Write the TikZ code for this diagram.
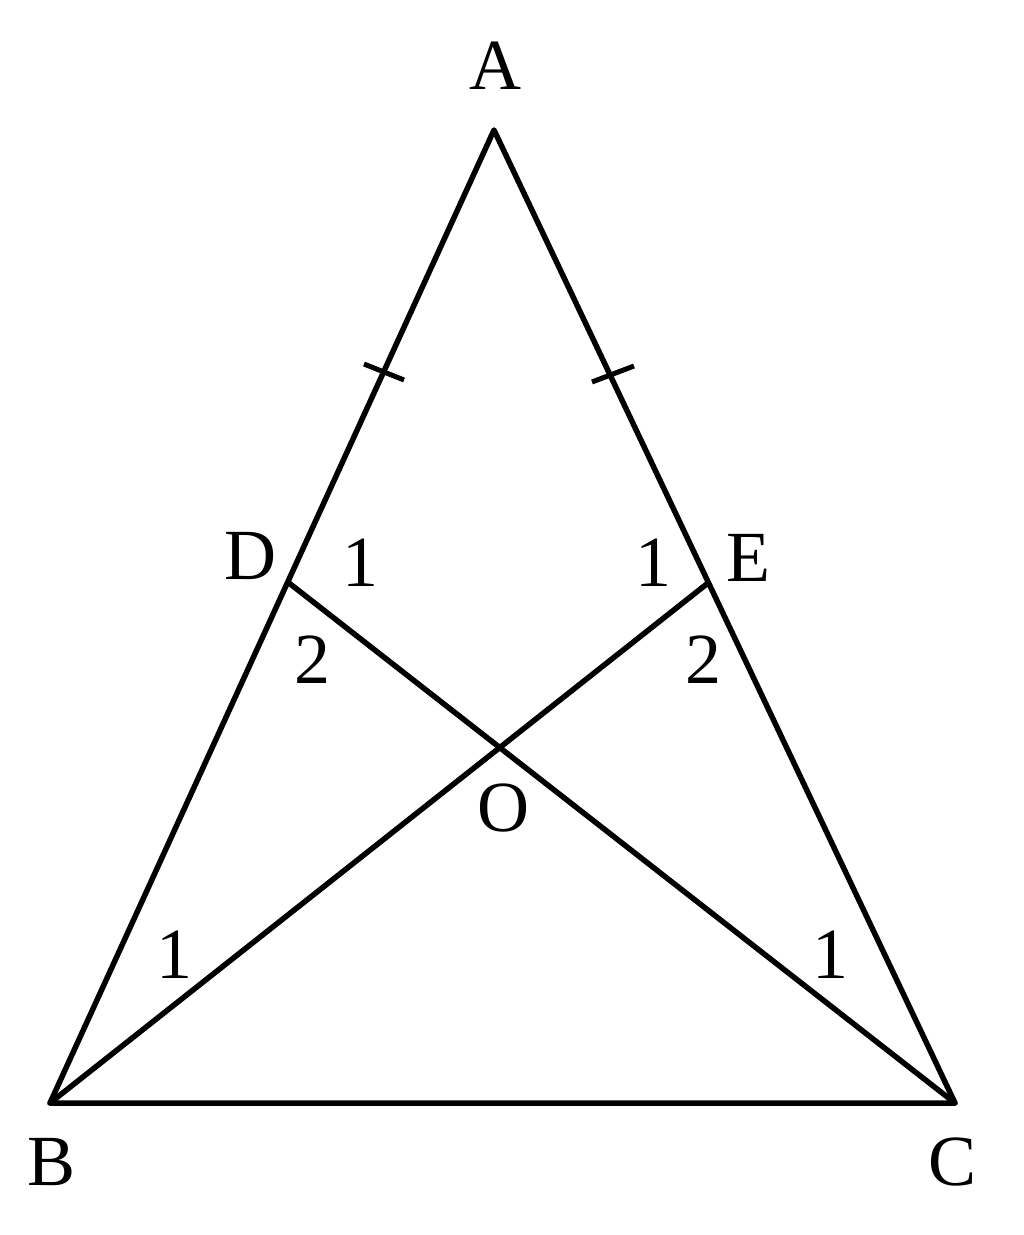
\documentclass[tikz,border=0pt]{standalone}
\usepackage{fontspec}
\setmainfont{Liberation Serif}
\begin{document}
\begin{tikzpicture}[x=1pt,y=-1pt,
  seg/.style={line width=5.5pt,line cap=round,line join=round},
  tick/.style={line width=5pt},
  lbl/.style={font=\fontsize{72}{80}\selectfont,inner sep=0pt}]
\useasboundingbox (0,0) rectangle (1024,1235);
\coordinate (A) at (494,130);
\coordinate (B) at (50,1103);
\coordinate (C) at (955,1103);
\coordinate (D) at (289,583);
\coordinate (E) at (708,583);
\coordinate (O) at (499,746);
\coordinate (T1a) at (364,364);
\coordinate (T1b) at (404,380);
\coordinate (T2a) at (592,382);
\coordinate (T2b) at (634,366);
\draw[seg] (B) -- (A) -- (C) -- cycle;
\draw[seg] (D) -- (C);
\draw[seg] (E) -- (B);
\draw[tick] (T1a) -- (T1b);
\draw[tick] (T2a) -- (T2b);
\node[lbl] (lA) at (495,66) {A};
\node[lbl] (lB) at (52,1162) {B};
\node[lbl] (lC) at (953,1162) {C};
\node[lbl] (lD) at (250,556) {D};
\node[lbl] (lE) at (748,558) {E};
\node[lbl] (lO) at (503,808) {O};
\node[lbl] (d1) at (360,563) {1};
\node[lbl] (e1) at (653,563) {1};
\node[lbl] (d2) at (312,660) {2};
\node[lbl] (e2) at (703,660) {2};
\node[lbl] (b1) at (174,955) {1};
\node[lbl] (c1) at (830,955) {1};
\end{tikzpicture}
\end{document}
